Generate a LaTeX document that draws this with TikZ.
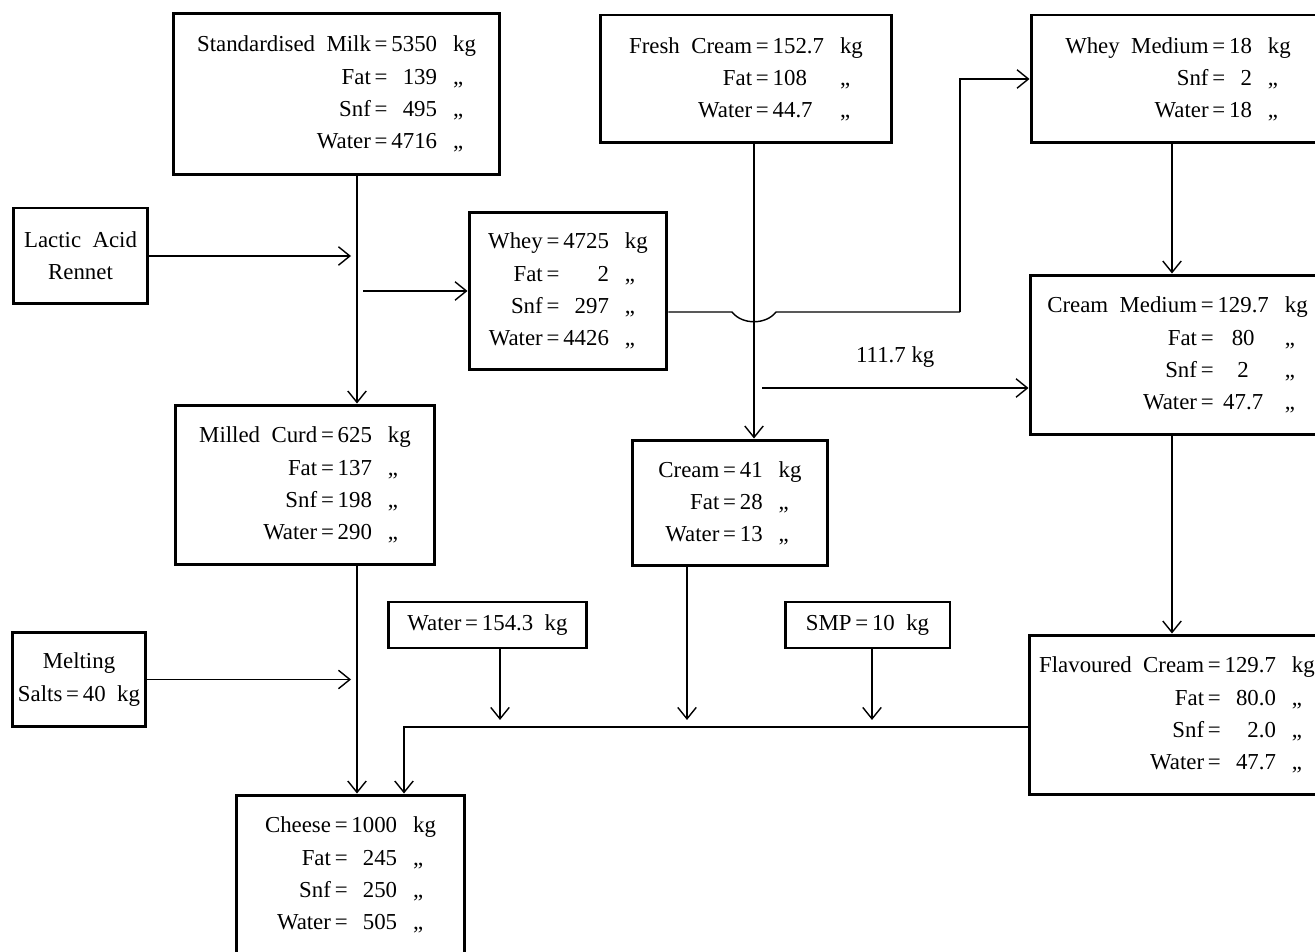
\documentclass[tikz,border=0pt]{standalone}
\usepackage{fontspec}
\setmainfont{Liberation Serif}
\usepackage{tikz}
\usetikzlibrary{arrows.meta, calc}
\tikzstyle{box}   = [rectangle, draw=black, line width=1.7pt, text centered, align=center, font=\fontsize{13}{18.4}\selectfont]
\tikzstyle{note}  = [font=\fontsize{13}{18.4}\selectfont]
\tikzstyle{line}  = [line width=0.8pt]
\tikzstyle{arrow} = [line width=0.8pt, -{Straight Barb[length=6.5pt, width=10.5pt]}]
\newcommand{\mass}[2]{\begin{tabular}{@{}r@{\,=\,}#1@{\hspace{0.7em}}l@{}}#2\end{tabular}}

\begin{document}
\begin{tikzpicture}[x=0.02cm, y=-0.02cm]
      \useasboundingbox (0,0) rectangle (1315,952);

      \node (milk)   [box, minimum width=6.54cm, minimum height=3.24cm] at (336.5,94)
            {\mass{r}{Standardised\enspace Milk & 5350 & kg\\ Fat & 139 & ,,\\ Snf & 495 & ,,\\ Water & 4716 & ,,}};
      \node (acid)   [box, minimum width=2.7cm, minimum height=1.92cm] at (80.5,256) {Lactic\enspace Acid\\ Rennet};
      \node (whey)   [box, minimum width=3.96cm, minimum height=3.16cm] at (568,291)
            {\mass{r}{Whey & 4725 & kg\\ Fat & 2 & ,,\\ Snf & 297 & ,,\\ Water & 4426 & ,,}};
      \node (fresh)  [box, minimum width=5.84cm, minimum height=2.56cm] at (746,79)
            {\mass{l}{Fresh\enspace Cream & 152.7 & kg\\ Fat & 108 & ,,\\ Water & 44.7 & ,,}};
      \node (wmed)   [box, minimum width=5.88cm, minimum height=2.56cm] at (1178,79)
            {\mass{r}{Whey\enspace Medium & 18 & kg\\ Snf & 2 & ,,\\ Water & 18 & ,,}};
      \node (cmed)   [box, minimum width=5.9cm, minimum height=3.2cm] at (1177.5,355)
            {\mass{c}{Cream\enspace Medium & 129.7 & kg\\ Fat & 80 & ,,\\ Snf & 2 & ,,\\ Water & 47.7 & ,,}};
      \node (curd)   [box, minimum width=5.2cm, minimum height=3.2cm] at (305,485)
            {\mass{r}{Milled\enspace Curd & 625 & kg\\ Fat & 137 & ,,\\ Snf & 198 & ,,\\ Water & 290 & ,,}};
      \node (cream)  [box, minimum width=3.92cm, minimum height=2.52cm] at (730,503)
            {\mass{r}{Cream & 41 & kg\\ Fat & 28 & ,,\\ Water & 13 & ,,}};
      \node (water)  [box, minimum width=3.98cm, minimum height=0.92cm] at (487.5,625) {Water\,=\,154.3\enspace kg};
      \node (smp)    [box, minimum width=3.3cm, minimum height=0.92cm] at (867.5,625) {SMP\,=\,10\enspace kg};
      \node (salts)  [box, minimum width=2.64cm, minimum height=1.9cm] at (79,679.5) {Melting\\ Salts\,=\,40\enspace kg};
      \node (flav)   [box, minimum width=5.92cm, minimum height=3.2cm] at (1177,715)
            {\mass{r}{Flavoured\enspace Cream & 129.7 & kg\\ Fat & 80.0 & ,,\\ Snf & 2.0 & ,,\\ Water & 47.7 & ,,}};
      \node (cheese) [box, minimum width=4.58cm, minimum height=3.2cm] at (350.5,875)
            {\mass{r}{Cheese & 1000 & kg\\ Fat & 245 & ,,\\ Snf & 250 & ,,\\ Water & 505 & ,,}};

      % turning points
      \coordinate (m0)   at (357,175);
      \coordinate (f0)   at (754,143);
      \coordinate (hop)  at (754,312);
      \coordinate (turn) at (960,312);
      \coordinate (br)   at (762,388);
      \coordinate (r0)   at (1172,0);
      \coordinate (c0)   at (404,727);
      \coordinate (c1)   at (500,727);
      \coordinate (c2)   at (687,727);
      \coordinate (c3)   at (872,727);

      % curd line
      \draw [arrow] (m0 |- milk.south) -- (m0 |- curd.north);
      \draw [arrow] (acid.east) -- ([xshift=-0.12cm]acid.east -| m0);
      \draw [arrow] ([xshift=0.12cm]m0 |- whey.west) -- (whey.west);
      \draw [arrow] (m0 |- curd.south) -- (m0 |- cheese.north);
      \draw [arrow] (salts.east) -- ([xshift=-0.12cm]salts.east -| m0);

      % whey and cream
      \draw [line] (whey.east |- hop) -- ([xshift=-0.44cm]hop)
            .. controls +(0.2cm,-0.26cm) and +(-0.2cm,-0.26cm) .. ([xshift=0.44cm]hop) -- (turn);
      \draw [arrow] (turn) -- (turn |- wmed.west) -- (wmed.west);
      \draw [arrow] (f0 |- fresh.south) -- (f0 |- cream.north);
      \draw [arrow] (br) -- (br -| cmed.west) node (qty) [note, midway, yshift=0.62cm] {111.7 kg};
      \draw [arrow] (r0 |- wmed.south) -- (r0 |- cmed.north);
      \draw [arrow] (r0 |- cmed.south) -- (r0 |- flav.north);

      % to cheese
      \draw [arrow] (flav.west |- c0) -- (c0) -- (c0 |- cheese.north);
      \draw [arrow, shorten >=4pt] (c1 |- water.south) -- (c1);
      \draw [arrow, shorten >=4pt] (c2 |- cream.south) -- (c2);
      \draw [arrow, shorten >=4pt] (c3 |- smp.south) -- (c3);
\end{tikzpicture}
\end{document}
